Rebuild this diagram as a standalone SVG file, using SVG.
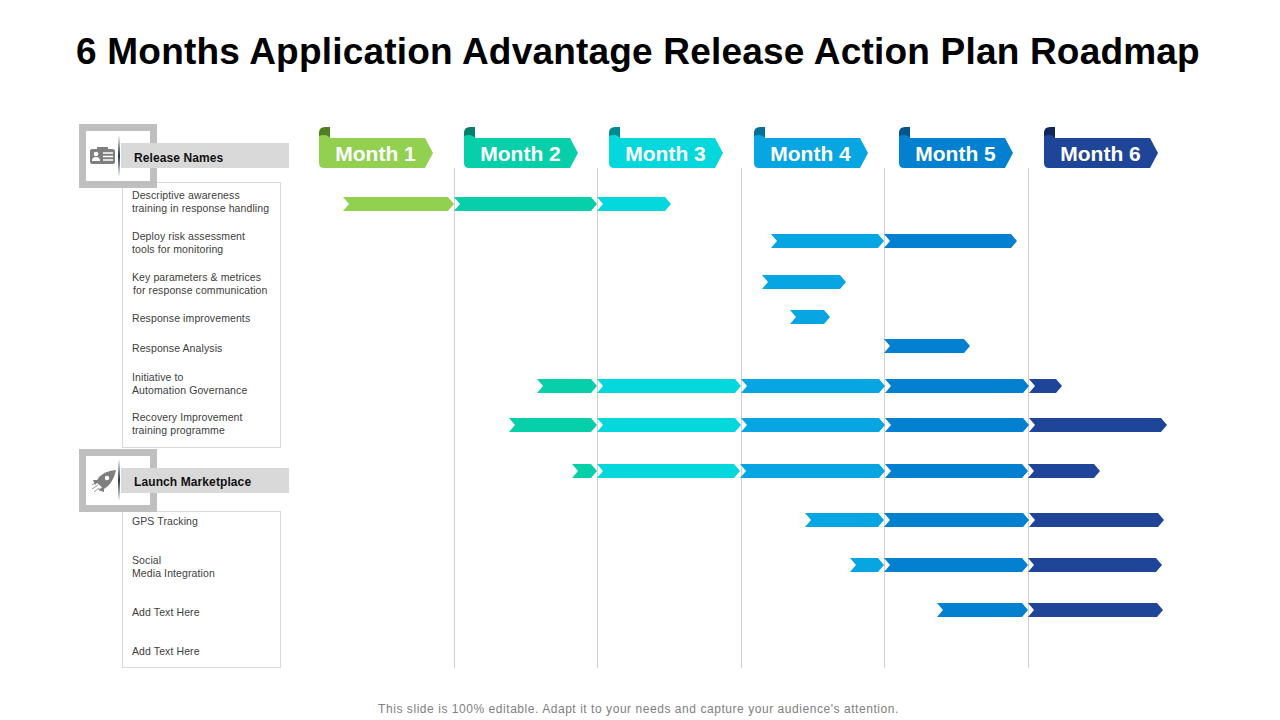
<svg xmlns="http://www.w3.org/2000/svg" width="1280" height="720" viewBox="0 0 1280 720">
<style>
text{font-family:"Liberation Sans",Arial,sans-serif}
.title{font-size:37px;font-weight:700;fill:#000;text-anchor:middle;letter-spacing:.2px}
.foot{font-size:12px;fill:#808080;text-anchor:middle;letter-spacing:.55px}
.m{font-size:21px;font-weight:700;fill:#fff;text-anchor:middle}
.h{font-size:12px;font-weight:700;fill:#111;letter-spacing:.1px}
.t{font-size:10.5px;fill:#404040;letter-spacing:.1px}
.frame{fill:#fff;stroke:#bfbfbf;stroke-width:7}
.lab{fill:#d9d9d9}
.box{fill:#fff;stroke:#d9d9d9;stroke-width:1}
.ic{fill:#7f7f7f}
.grid{stroke:#d0d0d0;stroke-width:1;fill:none}
.c1{fill:#92d050}.c2{fill:#07cfaa}.c3{fill:#04d8dc}.c4{fill:#07a6e2}.c5{fill:#0480d0}.c6{fill:#1f4599}
.d1{fill:#4f7f1f}.d2{fill:#067f6a}.d3{fill:#038a90}.d4{fill:#056f99}.d5{fill:#03558c}.d6{fill:#11275c}
</style>
<defs>
<path id="tabBody" d="M0 6Q0 3 4 3H11V11H106L114 26L106 41H5Q0 41 0 36Z"/>
<path id="tabCurl" d="M0 9V6Q0 0 6 0H11V11Q9 8 5 8Q2 8 0 9Z"/>
<linearGradient id="sep" x1="0" y1="0" x2="0" y2="1"><stop offset="0" stop-color="#1f3a5a" stop-opacity="0"/><stop offset=".5" stop-color="#1f3a5a"/><stop offset="1" stop-color="#1f3a5a" stop-opacity="0"/></linearGradient>
</defs>
<text class="title" x="638" y="64">6 Months Application Advantage Release Action Plan Roadmap</text>

<g id="gridlines">
<path class="grid" d="M454.500 168V668M597.500 168V668M741.500 168V668M884.500 168V668M1028.500 168V668"/>
</g>

<g id="month-1"><use href="#tabBody" x="319" y="127" class="c1"/><use href="#tabCurl" x="319" y="127" class="d1"/><text class="m" x="375.500" y="161">Month 1</text></g>
<g id="month-2"><use href="#tabBody" x="464" y="127" class="c2"/><use href="#tabCurl" x="464" y="127" class="d2"/><text class="m" x="520.500" y="161">Month 2</text></g>
<g id="month-3"><use href="#tabBody" x="609" y="127" class="c3"/><use href="#tabCurl" x="609" y="127" class="d3"/><text class="m" x="665.500" y="161">Month 3</text></g>
<g id="month-4"><use href="#tabBody" x="754" y="127" class="c4"/><use href="#tabCurl" x="754" y="127" class="d4"/><text class="m" x="810.500" y="161">Month 4</text></g>
<g id="month-5"><use href="#tabBody" x="899" y="127" class="c5"/><use href="#tabCurl" x="899" y="127" class="d5"/><text class="m" x="955.500" y="161">Month 5</text></g>
<g id="month-6"><use href="#tabBody" x="1044" y="127" class="c6"/><use href="#tabCurl" x="1044" y="127" class="d6"/><text class="m" x="1100.500" y="161">Month 6</text></g>

<g id="release-names">
<rect class="box" x="122.500" y="182.500" width="158" height="265"/>
<rect class="frame" x="82.500" y="127.500" width="71" height="57"/>
<rect class="lab" x="121" y="143" width="168" height="25"/>
<rect x="118" y="135" width="2" height="42" fill="url(#sep)"/>
<path class="ic" d="M90 151Q90 149 92 149H97V147H108V149H112Q115 149 115 151V162Q115 164 112 164H92Q90 164 90 162Z"/>
<circle cx="96" cy="154" r="2.300" fill="#fff"/><path d="M92 161Q92 157 96 157Q100 157 100 161Z" fill="#fff"/>
<path d="M103 153H113M103 156.500H113M103 160H113" stroke="#fff" stroke-width="1.500"/>
<text class="h" x="134" y="162">Release Names</text>
<text class="t" x="132" y="199">Descriptive awareness</text>
<text class="t" x="132" y="212">training in response handling</text>
<text class="t" x="132" y="240">Deploy risk assessment</text>
<text class="t" x="132" y="253">tools for monitoring</text>
<text class="t" x="132" y="281">Key parameters &amp; metrices</text>
<text class="t" x="133" y="294">for response communication</text>
<text class="t" x="132" y="322">Response improvements</text>
<text class="t" x="132" y="352">Response Analysis</text>
<text class="t" x="132" y="381">Initiative to</text>
<text class="t" x="132" y="394">Automation Governance</text>
<text class="t" x="132" y="421">Recovery Improvement</text>
<text class="t" x="132" y="434">training programme</text>
</g>

<g id="launch-marketplace">
<rect class="box" x="122.500" y="511.500" width="158" height="156"/>
<rect class="frame" x="82.500" y="452.500" width="71" height="56"/>
<rect class="lab" x="121" y="468" width="168" height="25"/>
<rect x="118" y="459" width="2" height="42" fill="url(#sep)"/>
<path class="ic" d="M116 470Q105 471 99 477L96 482L104 489L108 486Q114 480 116 470Z"/>
<path class="ic" d="M93 480H100L95 485ZM104 492V486L98 490Z"/>
<circle cx="107" cy="478" r="2.200" fill="#fff"/>
<path d="M92 489L98 485M94 492L99 488M92 485L95 483" stroke="#9a9a9a" stroke-width="1"/>
<text class="h" x="134" y="486">Launch Marketplace</text>
<text class="t" x="132" y="525">GPS  Tracking</text>
<text class="t" x="132" y="564">Social</text>
<text class="t" x="132" y="577">Media Integration</text>
<text class="t" x="132" y="616">Add Text Here</text>
<text class="t" x="132" y="655">Add Text Here</text>
</g>

<g id="bars">
<path class="c1" d="M343 197H448L454 204L448 211H343L349 204Z"/>
<path class="c2" d="M454 197H591L597 204L591 211H454L460 204Z"/>
<path class="c3" d="M597 197H665L671 204L665 211H597L603 204Z"/>
<path class="c4" d="M771 234H878L884 241L878 248H771L777 241Z"/>
<path class="c5" d="M884 234H1011L1017 241L1011 248H884L890 241Z"/>
<path class="c4" d="M762 275H840L846 282L840 289H762L768 282Z"/>
<path class="c4" d="M790 310H824L830 317L824 324H790L796 317Z"/>
<path class="c5" d="M884 339H964L970 346L964 353H884L890 346Z"/>
<path class="c2" d="M537 379H591L597 386L591 393H537L543 386Z"/>
<path class="c3" d="M597 379H735L741 386L735 393H597L603 386Z"/>
<path class="c4" d="M741 379H879L885 386L879 393H741L747 386Z"/>
<path class="c5" d="M885 379H1023L1029 386L1023 393H885L891 386Z"/>
<path class="c6" d="M1029 379H1056L1062 386L1056 393H1029L1035 386Z"/>
<path class="c2" d="M509 418H591L597 425L591 432H509L515 425Z"/>
<path class="c3" d="M597 418H735L741 425L735 432H597L603 425Z"/>
<path class="c4" d="M741 418H879L885 425L879 432H741L747 425Z"/>
<path class="c5" d="M885 418H1023L1029 425L1023 432H885L891 425Z"/>
<path class="c6" d="M1029 418H1161L1167 425L1161 432H1029L1035 425Z"/>
<path class="c2" d="M572 464H591L597 471L591 478H572L578 471Z"/>
<path class="c3" d="M597 464H734L740 471L734 478H597L603 471Z"/>
<path class="c4" d="M740 464H879L885 471L879 478H740L746 471Z"/>
<path class="c5" d="M885 464H1022L1028 471L1022 478H885L891 471Z"/>
<path class="c6" d="M1028 464H1094L1100 471L1094 478H1028L1034 471Z"/>
<path class="c4" d="M805 513H878L884 520L878 527H805L811 520Z"/>
<path class="c5" d="M884 513H1023L1029 520L1023 527H884L890 520Z"/>
<path class="c6" d="M1029 513H1158L1164 520L1158 527H1029L1035 520Z"/>
<path class="c4" d="M850 558H878L884 565L878 572H850L856 565Z"/>
<path class="c5" d="M884 558H1022L1028 565L1022 572H884L890 565Z"/>
<path class="c6" d="M1028 558H1156L1162 565L1156 572H1028L1034 565Z"/>
<path class="c5" d="M937 603H1022L1028 610L1022 617H937L943 610Z"/>
<path class="c6" d="M1028 603H1157L1163 610L1157 617H1028L1034 610Z"/>
</g>
<text class="foot" x="638.500" y="713">This slide is 100% editable. Adapt it to your needs and capture your audience's attention.</text>
</svg>
